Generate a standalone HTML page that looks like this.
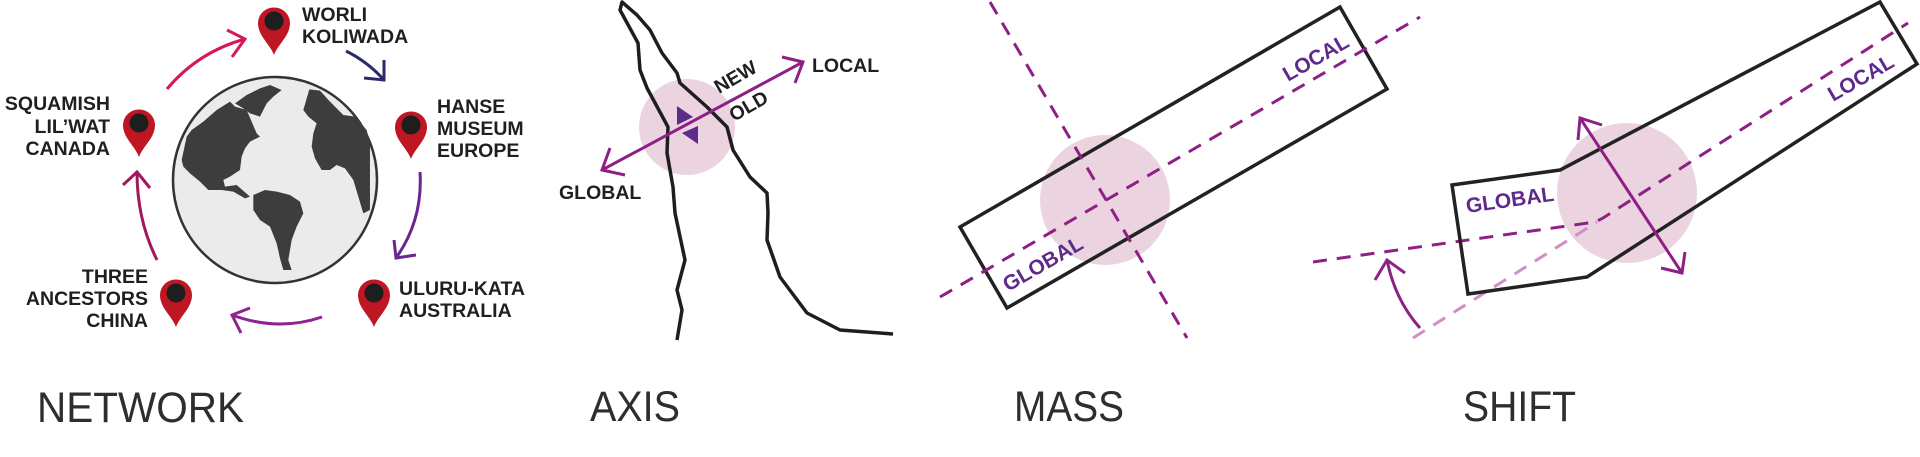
<!DOCTYPE html>
<html><head><meta charset="utf-8"><style>
html,body{margin:0;padding:0;background:#fff;width:1920px;height:457px;overflow:hidden}
svg{display:block}
.lb{font-family:"Liberation Sans",sans-serif;font-weight:bold;font-size:19.5px;fill:#1f1f1f}
.h{font-family:"Liberation Sans",sans-serif;font-size:43px;fill:#2e2e2e}
.pl{font-family:"Liberation Sans",sans-serif;font-weight:bold;font-size:21px;fill:#5e2a8c}
</style></head><body>
<svg width="1920" height="457" viewBox="0 0 1920 457" xmlns="http://www.w3.org/2000/svg">
<defs>
<g id="pin"><path d="M0,37 C-4,26 -16,18 -16,5 A16,15.5 0 1 1 16,5 C16,18 4,26 0,37 Z" fill="#be1622"/><circle cx="0" cy="3" r="9.5" fill="#1e1e1e"/></g>
</defs>
<!-- NETWORK -->
<ellipse cx="275" cy="180" rx="102" ry="103" fill="#ebebeb" stroke="#333" stroke-width="2.5"/>
<g fill="#3d3d3d" transform="translate(150,70) scale(0.3333)">
<path d="M95,270 110,200 125,180 160,155 200,120 240,95 255,110 290,120 320,190 330,200 300,215 285,235 275,260 270,300 240,320 220,330 225,350 260,345 300,380 285,385 250,365 215,360 175,360 150,335 120,310 100,290Z"/>
<path d="M255,100 290,75 330,55 360,45 395,60 370,80 350,100 330,140 300,130 280,115Z"/>
<path d="M205,175 235,155 262,162 252,200 215,202Z"/>
<path d="M310,375 345,360 380,365 420,375 450,395 460,430 440,470 425,510 420,540 415,570 425,600 400,600 390,565 380,520 360,470 330,450 310,420Z"/>
<path d="M460,120 478,58 510,62 540,95 580,135 615,140 650,180 660,220 660,420 640,430 625,380 610,330 585,295 560,285 540,300 515,300 495,265 485,230 490,190 500,160 475,140Z"/>
</g>
<use href="#pin" x="274" y="18"/><use href="#pin" x="139" y="120"/><use href="#pin" x="411" y="122"/><use href="#pin" x="176" y="290"/><use href="#pin" x="374" y="290"/>
<text class="lb" x="302" y="21">WORLI</text><text class="lb" x="302" y="43">KOLIWADA</text>
<text class="lb" text-anchor="end" x="110" y="110">SQUAMISH</text><text class="lb" text-anchor="end" x="110" y="133">LIL’WAT</text><text class="lb" text-anchor="end" x="110" y="155">CANADA</text>
<text class="lb" x="437" y="113">HANSE</text><text class="lb" x="437" y="135">MUSEUM</text><text class="lb" x="437" y="157">EUROPE</text>
<text class="lb" text-anchor="end" x="148" y="283">THREE</text><text class="lb" text-anchor="end" x="148" y="305">ANCESTORS</text><text class="lb" text-anchor="end" x="148" y="327">CHINA</text>
<text class="lb" x="399" y="295">ULURU-KATA</text><text class="lb" x="399" y="317">AUSTRALIA</text>
<g fill="none" stroke-width="3">
<path d="M167,89 Q198,52 245,39 M227,30 L245,39 L232,57" stroke="#d6185a"/>
<path d="M346,51 Q368,62 384,80 M364,78 L384,80 L384,60" stroke="#2b2a6b"/>
<path d="M420,172 Q423,220 396,258 M416,255 L396,258 L394,240" stroke="#6a2590"/>
<path d="M322,317 Q278,332 232,315 M250,308 L232,315 L241,333" stroke="#8e2390"/>
<path d="M157,260 Q137,220 137,172 M123,185 L137,172 L150,188" stroke="#a3175e"/>
</g>
<text class="h" x="37" y="422" textLength="207" lengthAdjust="spacingAndGlyphs">NETWORK</text>
<!-- AXIS -->
<circle cx="687" cy="127" r="48" fill="#ebd3df"/>
<path d="M677,340 L682,310 L677,290 L685,260 L675,213 L673,187 L667,153 L668,127 L647,88 L640,70 L638,43 L620,10 L622,2 L637,15 L650,30 L662,53 L677,73 L680,83 L707,107 L727,127 L733,150 L750,177 L767,193 L768,213 L767,240 L780,277 L807,313 L840,330 L893,334" fill="none" stroke="#1e1e1e" stroke-width="3.5" stroke-linejoin="round"/>
<path d="M677,106 L677,125 L693,117 Z M698,126 L698,144 L682,133 Z" fill="#5e2a8c"/>
<g fill="none" stroke="#8e1f86" stroke-width="3"><path d="M602,170 L803,62 M782,57 L803,62 L795,83 M610,148 L602,170 L625,175"/></g>
<text class="lb" transform="translate(719,94) rotate(-30)" font-size="21">NEW</text>
<text class="lb" transform="translate(734,122) rotate(-30)" font-size="21">OLD</text>
<text class="lb" x="812" y="72" font-size="21">LOCAL</text><text class="lb" x="559" y="199" font-size="21">GLOBAL</text>
<text class="h" x="590" y="421" textLength="90" lengthAdjust="spacingAndGlyphs">AXIS</text>
<!-- MASS -->
<circle cx="1105" cy="200" r="65" fill="#ebd3df"/>
<path d="M960,227 L1340,7 L1387,89 L1007,308 Z" fill="none" stroke="#222" stroke-width="3.5"/>
<g fill="none" stroke="#8e1f86" stroke-width="3" stroke-dasharray="14,10">
<path d="M940,297 L1420,17"/><path d="M990,2 L1187,338"/>
</g>
<text class="pl" transform="translate(1288,82) rotate(-30)" font-size="22">LOCAL</text>
<text class="pl" transform="translate(1008,292) rotate(-30)" font-size="22">GLOBAL</text>
<text class="h" x="1014" y="421" textLength="110" lengthAdjust="spacingAndGlyphs">MASS</text>
<!-- SHIFT -->
<circle cx="1627" cy="193" r="70" fill="#ebd3df"/>
<path d="M1413,338 L1597,222" fill="none" stroke="#d08fc6" stroke-width="3" stroke-dasharray="14,10"/>
<path d="M1313,262 L1588,223 Q1596,222 1603,218 L1908,23" fill="none" stroke="#8e1f86" stroke-width="3" stroke-dasharray="14,10"/>
<path d="M1452,185 L1560,170 L1880,2 L1917,64 L1587,277 L1468,294 Z" fill="none" stroke="#222" stroke-width="3.5"/>
<g fill="none" stroke="#8e1f86" stroke-width="3">
<path d="M1580,118 L1682,273 M1602,125 L1580,118 L1578,140 M1661,268 L1682,273 L1685,252"/>
<path d="M1420,328 Q1395,300 1387,260 M1375,280 L1387,260 L1405,273"/>
</g>
<text class="pl" transform="translate(1467,213) rotate(-8)" font-size="23">GLOBAL</text>
<text class="pl" transform="translate(1833,102) rotate(-30)" font-size="22">LOCAL</text>
<text class="h" x="1463" y="421" textLength="113" lengthAdjust="spacingAndGlyphs">SHIFT</text>
</svg>
</body></html>
